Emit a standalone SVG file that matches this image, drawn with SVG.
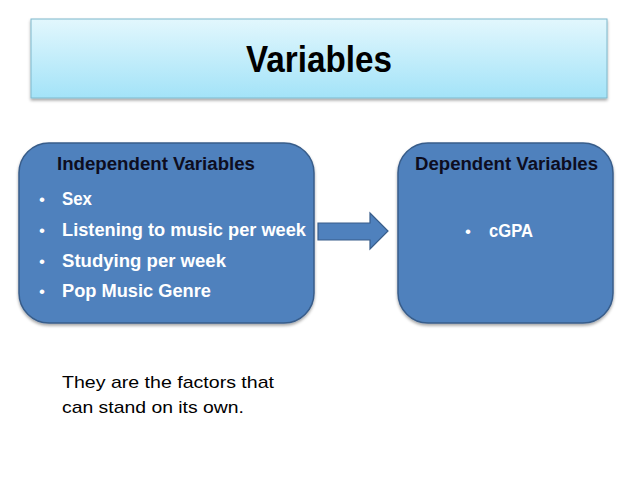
<svg xmlns="http://www.w3.org/2000/svg" width="638" height="479" viewBox="0 0 638 479">
<defs>
<linearGradient id="tg" x1="0" y1="0" x2="0" y2="1">
<stop offset="0" stop-color="#e2f7fd"/>
<stop offset="1" stop-color="#a3e3f8"/>
</linearGradient>
<filter id="sh" x="-5%" y="-5%" width="110%" height="120%">
<feDropShadow dx="0" dy="2" stdDeviation="1.5" flood-color="#000" flood-opacity="0.35"/>
</filter>
</defs>
<style>
.box{fill:#4f81bd;stroke:#385d8a;stroke-width:1.5}
.hd{font-family:"Liberation Sans",Arial,sans-serif;font-weight:bold;font-size:18px;fill:#0d0d1f}
.it{font-family:"Liberation Sans",Arial,sans-serif;font-weight:bold;font-size:18px;fill:#ffffff}
.bu{font-family:"Liberation Sans",Arial,sans-serif;font-size:17px;fill:#ffffff}
.nt{font-family:"Liberation Sans",Arial,sans-serif;font-size:17px;fill:#000000}
</style>
<rect width="638" height="479" fill="#ffffff"/>
<g id="title">
<rect x="31" y="19" width="576" height="79" fill="url(#tg)" stroke="#7fb8cc" stroke-width="1" filter="url(#sh)"/>
<text x="319" y="72" text-anchor="middle" font-family="'Liberation Sans',Arial,sans-serif" font-weight="bold" font-size="36" fill="#000" textLength="146" lengthAdjust="spacingAndGlyphs">Variables</text>
</g>
<g id="independent">
<rect class="box" x="19" y="143" width="295" height="180" rx="30" filter="url(#sh)"/>
<text class="hd" x="57" y="170" textLength="198" lengthAdjust="spacingAndGlyphs">Independent Variables</text>
<text class="bu" x="39" y="205">•</text>
<text class="it" x="62" y="205" textLength="30" lengthAdjust="spacingAndGlyphs">Sex</text>
<text class="bu" x="39" y="236">•</text>
<text class="it" x="62" y="236" textLength="244" lengthAdjust="spacingAndGlyphs">Listening to music per week</text>
<text class="bu" x="39" y="267">•</text>
<text class="it" x="62" y="267" textLength="164" lengthAdjust="spacingAndGlyphs">Studying per week</text>
<text class="bu" x="39" y="297">•</text>
<text class="it" x="62" y="297" textLength="149" lengthAdjust="spacingAndGlyphs">Pop Music Genre</text>
</g>
<g id="dependent">
<rect class="box" x="398" y="143" width="215" height="180" rx="30" filter="url(#sh)"/>
<text class="hd" x="415" y="170" textLength="183" lengthAdjust="spacingAndGlyphs">Dependent Variables</text>
<text class="bu" x="465" y="237">•</text>
<text class="it" x="489" y="237" textLength="44" lengthAdjust="spacingAndGlyphs">cGPA</text>
</g>
<g id="connectors">
<path d="M318,223 L370,223 L370,213 L388,231 L370,249 L370,240 L318,240 Z" fill="#4f81bd" stroke="#385d8a" stroke-width="1.2"/>
</g>
<g id="note">
<text class="nt" x="62" y="388" textLength="212" lengthAdjust="spacingAndGlyphs">They are the factors that</text>
<text class="nt" x="62" y="413" textLength="182" lengthAdjust="spacingAndGlyphs">can stand on its own.</text>
</g>
</svg>
